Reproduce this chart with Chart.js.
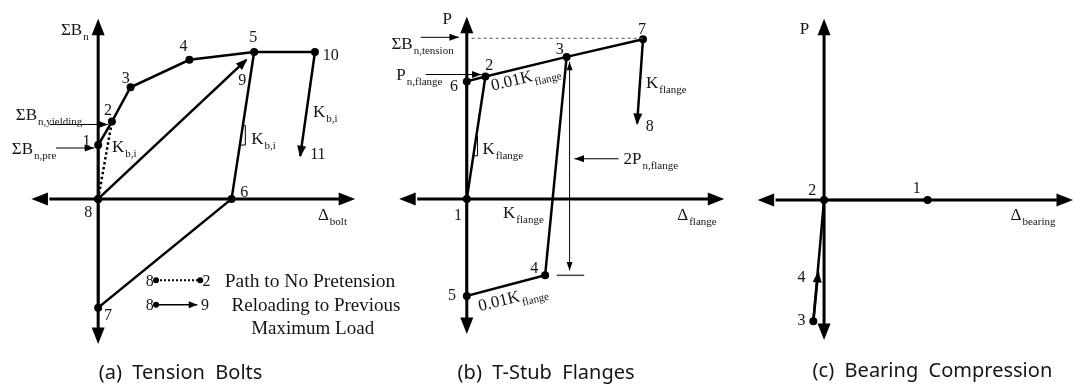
<!DOCTYPE html>
<html>
<head>
<meta charset="utf-8">
<script src="https://cdn.jsdelivr.net/npm/chart.js@4"></script>
<style>
  body { margin: 0; background: #fff; }
  #wrap { position: relative; width: 1077px; height: 391px; overflow: hidden; }
  canvas { position: absolute; top: 0; }
</style>
</head>
<body>
<div id="wrap">
  <canvas id="bolts" width="420" height="391" style="left:0"></canvas>
  <canvas id="flanges" width="380" height="391" style="left:360px"></canvas>
  <canvas id="bearing" width="337" height="391" style="left:740px"></canvas>
</div>
<script>
// (a) tension bolts, origin at point 8 (x = elongation, y = bolt force)
const boltLoading = [[0, 0], [0, 55], [14, 79], [33, 114], [93, 142], [159, 150], [221, 150]]; // 8-1-2-3-4-5-10
const boltLoadingDots = [1, 1, 1, 1, 1, 1, 1];
const boltUnload = [[221, 150], [206, 44]];                 // 10 -> 11
const boltCycle = [[159, 150], [136, 0], [0, -111], [0, 0]]; // 5-6-7-8
const boltCycleDots = [0, 1, 1, 0];
const boltReload = [[0, 0], [151, 142]];                    // 8 -> 9
const boltNoPretension = [[0, 0], [14, 79]];                // 8 ... 2
const boltAxisX = [-65, 262];
const boltAxisY = [-148, 184];

// (b) T-stub flanges, origin at point 1
const flangeLoading = [[0, 0], [19, 125], [102, 145], [180, 163]]; // 1-2-3-7
const flangeLoadingDots = [1, 1, 1, 1];
const flangeUnload = [[180, 163], [174, 77]];                      // 7 -> 8
const flangeCycle = [[102, 145], [80, -78], [0, -99], [0, 120], [19, 125]]; // 3-4-5-6-2
const flangeCycleDots = [0, 1, 1, 1, 0];
const flangeTension = 164;        // sum of bolt tension capacity
const flangeRange = [140, -73];   // 2P_n,flange span
const flangeAxisX = [-66, 263];
const flangeAxisY = [-138, 186];

// (c) bearing compression, origin at point 2
const bearingPath = [[106, 0], [0, 0], [-11, -124]]; // 1-2-3
const bearingPathDots = [1, 1, 1];
const bearingReload = [[-11, -124], [-6, -74]];      // 3 -> 4
const bearingAxisX = [-65, 255];
const bearingAxisY = [-143, 185];

const INK = '#000';
const TEXT = '#151515';
const SERIF = '"Liberation Serif", "Times New Roman", serif';
const LABEL = 17;
const NUM = 16;

function path(points, opts = {}) {
  const dots = opts.dots || points.map(() => 0);
  delete opts.dots;
  return Object.assign({
    data: points.map(([x, y]) => ({ x, y })),
    showLine: true,
    borderColor: INK,
    backgroundColor: INK,
    borderWidth: 2.5,
    pointRadius: dots.map(d => d ? 4 : 0),
    pointBorderWidth: 0,
    tension: 0
  }, opts);
}

function arrowHead(ctx, x0, y0, x1, y1, len, half) {
  const a = Math.atan2(y1 - y0, x1 - x0);
  ctx.save();
  ctx.translate(x1, y1);
  ctx.rotate(a);
  ctx.beginPath();
  ctx.moveTo(1.5, 0);
  ctx.lineTo(-len, half);
  ctx.lineTo(-len, -half);
  ctx.closePath();
  ctx.fill();
  ctx.restore();
}

// text with an optional subscript after '_'
function rich(ctx, text, x, y, size, align = 'left', rot = 0) {
  const [main, sub = ''] = text.split('_');
  const subSize = Math.round(size * 0.64);
  ctx.save();
  ctx.translate(x, y);
  ctx.rotate(rot);
  ctx.fillStyle = TEXT;
  ctx.textAlign = 'left';
  ctx.textBaseline = 'alphabetic';
  ctx.font = `${size}px ${SERIF}`;
  const wm = ctx.measureText(main).width;
  ctx.font = `${subSize}px ${SERIF}`;
  const ws = sub ? ctx.measureText(sub).width + 1 : 0;
  const x0 = align === 'center' ? -(wm + ws) / 2 : 0;
  const base = size * 0.33;
  ctx.font = `${size}px ${SERIF}`;
  ctx.fillText(main, x0, base);
  if (sub) {
    ctx.font = `${subSize}px ${SERIF}`;
    ctx.fillText(sub, x0 + wm + 1, base + size * 0.3);
  }
  ctx.restore();
}

function sketchTools(chart) {
  const ctx = chart.ctx;
  const sx = v => chart.scales.x.getPixelForValue(v);
  const sy = v => chart.scales.y.getPixelForValue(v);
  return {
    ctx, sx, sy,
    axes(xr, yr) {
      const o = { x: sx(0), y: sy(0) };
      const L = 15, H = 6.5;
      ctx.save();
      ctx.strokeStyle = INK;
      ctx.fillStyle = INK;
      ctx.lineWidth = 3;
      ctx.beginPath();
      ctx.moveTo(sx(xr[0]) + L, o.y);
      ctx.lineTo(sx(xr[1]) - L, o.y);
      ctx.moveTo(o.x, sy(yr[0]) - L);
      ctx.lineTo(o.x, sy(yr[1]) + L);
      ctx.stroke();
      arrowHead(ctx, o.x, o.y, sx(xr[0]) - 1.5, o.y, L, H);
      arrowHead(ctx, o.x, o.y, sx(xr[1]) - 1.5, o.y, L, H);
      arrowHead(ctx, o.x, o.y, o.x, sy(yr[0]) - 1.5, L, H);
      arrowHead(ctx, o.x, o.y, o.x, sy(yr[1]) + 1.5, L, H);
      ctx.restore();
    },
    pointer(a, b, width = 1, len = 8, half = 3.5) {
      ctx.save();
      ctx.strokeStyle = INK;
      ctx.fillStyle = INK;
      ctx.lineWidth = width;
      ctx.beginPath();
      ctx.moveTo(sx(a[0]), sy(a[1]));
      ctx.lineTo(sx(b[0]), sy(b[1]));
      ctx.stroke();
      arrowHead(ctx, sx(a[0]), sy(a[1]), sx(b[0]) - 1.5 * Math.sign(sx(b[0]) - sx(a[0])), sy(b[1]) - 1.5 * Math.sign(sy(b[1]) - sy(a[1])), len, half);
      ctx.restore();
    },
    poly(pts, width = 1, color = INK, dash = []) {
      ctx.save();
      ctx.strokeStyle = color;
      ctx.lineWidth = width;
      ctx.setLineDash(dash);
      ctx.beginPath();
      pts.forEach(([x, y], i) => i ? ctx.lineTo(sx(x), sy(y)) : ctx.moveTo(sx(x), sy(y)));
      ctx.stroke();
      ctx.restore();
    },
    dot(x, y, r = 3) {
      ctx.save();
      ctx.fillStyle = INK;
      ctx.beginPath();
      ctx.arc(sx(x), sy(y), r, 0, Math.PI * 2);
      ctx.fill();
      ctx.restore();
    },
    labels(list) {
      list.forEach(([t, x, y, size = LABEL, align = 'left', rot = 0]) => rich(ctx, t, sx(x), sy(y), size, align, rot));
    },
    numbers(list) {
      list.forEach(([t, x, y]) => rich(ctx, t, sx(x), sy(y), NUM, 'center'));
    },
    caption(t, x, y) {
      ctx.save();
      ctx.fillStyle = TEXT;
      ctx.font = '20px "Noto Sans", "Open Sans", sans-serif';
      ctx.textAlign = 'center';
      ctx.textBaseline = 'middle';
      ctx.fillText(t, sx(x), sy(y));
      ctx.restore();
    }
  };
}

function makePanel(id, xRange, yRange, datasets, axes, extras) {
  return new Chart(document.getElementById(id), {
    type: 'scatter',
    data: { datasets },
    options: {
      responsive: false,
      animation: false,
      events: [],
      layout: { padding: 0 },
      scales: {
        x: { type: 'linear', display: false, min: xRange[0], max: xRange[1] },
        y: { type: 'linear', display: false, min: yRange[0], max: yRange[1] }
      },
      plugins: { legend: { display: false }, tooltip: { enabled: false } }
    },
    plugins: [{
      id: 'sketch',
      beforeDatasetsDraw(chart) {
        sketchTools(chart).axes(axes[0], axes[1]);
      },
      afterDatasetsDraw(chart) {
        const ctx = chart.ctx;
        ctx.save();
        ctx.fillStyle = INK;
        chart.data.datasets.forEach((ds, i) => {
          if (!ds.arrowEnd) return;
          const pts = chart.getDatasetMeta(i).data;
          const a = pts[pts.length - 2], b = pts[pts.length - 1];
          arrowHead(ctx, a.x, a.y, b.x, b.y, 10, 4.5);
        });
        ctx.restore();
        extras(sketchTools(chart));
      }
    }]
  });
}

// (a) Tension Bolts
makePanel('bolts', [-96, 324], [-192, 199], [
  path(boltLoading, { dots: boltLoadingDots }),
  path(boltUnload, { arrowEnd: true }),
  path(boltCycle, { dots: boltCycleDots }),
  path(boltReload, { arrowEnd: true }),
  path(boltNoPretension, { borderDash: [2.5, 2.5], borderWidth: 2.5 })
], [boltAxisX, boltAxisY], t => {
  t.dot(0, 0, 4);
  t.pointer([-49, 76], [10, 76]);
  t.pointer([-43, 52], [-4, 52]);
  t.poly([[147.5, 75], [150, 75], [150, 55], [144.4, 55]], 1);
  t.labels([
    ['ΣB_n', -38, 173],
    ['Δ_bolt', 224, -16],
    ['ΣB_n,yielding', -84, 86],
    ['ΣB_n,pre', -88, 52],
    ['K_b,i', 14, 54],
    ['K_b,i', 156, 62],
    ['K_b,i', 219, 89]
  ]);
  t.numbers([
    ['1', -12, 59], ['2', 10, 91], ['3', 28, 124], ['4', 87, 156], ['5', 158, 166],
    ['10', 237, 147], ['9', 147, 122], ['11', 224, 46], ['6', 149, 7],
    ['8', -10, -13], ['7', 10, -118]
  ]);
  // legend
  t.numbers([['8', 52.5, -83], ['2', 110.5, -83], ['8', 52.5, -108], ['9', 109, -108]]);
  t.poly([[59, -83], [104, -83]], 2, INK, [2, 2]);
  t.dot(59, -83); t.dot(104, -83);
  t.dot(59, -108);
  t.pointer([59, -108], [101, -108], 1.5, 7, 3.5);
  t.labels([
    ['Path to No Pretension', 129, -83, 19.5],
    ['Reloading to Previous', 136, -108, 19],
    ['Maximum Load', 156, -131, 19]
  ]);
  t.caption('(a)  Tension  Bolts', 84, -178);
});

// (b) T-Stub Flanges
const slope = -0.24;
makePanel('flanges', [-105, 275], [-192, 199], [
  path(flangeLoading, { dots: flangeLoadingDots }),
  path(flangeUnload, { arrowEnd: true }),
  path(flangeCycle, { dots: flangeCycleDots })
], [flangeAxisX, flangeAxisY], t => {
  t.poly([[5, flangeTension], [180, flangeTension]], 1, '#555', [3, 3]);
  t.pointer([-47, 165], [-8, 165]);
  t.pointer([-42, 127], [15, 127]);
  t.pointer([155, 41], [110, 41]);
  t.pointer([105, 30], [105, flangeRange[0]], 1, 7, 3);
  t.pointer([105, 30], [105, flangeRange[1]], 1, 7, 3);
  t.poly([[92, -78], [120, -78]], 1.5, '#444');
  t.poly([[9.7, 64], [11, 64], [11, 44], [6.7, 44]], 1);
  t.labels([
    ['P', -20, 184, LABEL, 'center'],
    ['ΣB_n,tension', -77, 159],
    ['P_n,flange', -72, 127],
    ['K_flange', 183, 119],
    ['K_flange', 16, 52],
    ['2P_n,flange', 160, 41],
    ['Δ_flange', 215, -16],
    ['K_flange', 37, -14],
    ['0.01K_flange', 25, 116, LABEL, 'left', slope],
    ['0.01K_flange', 12, -109, LABEL, 'left', slope]
  ]);
  t.numbers([
    ['6', -13, 116], ['2', 23, 137], ['3', 95, 153], ['7', 179, 174], ['8', 187, 75],
    ['1', -9, -16], ['4', 69, -70], ['5', -15, -98]
  ]);
  t.caption('(b)  T-Stub  Flanges', 81, -178);
});

// (c) Bearing Compression
makePanel('bearing', [-82, 255], [-191, 200], [
  path(bearingPath, { dots: bearingPathDots }),
  path(bearingReload, { arrowEnd: true })
], [bearingAxisX, bearingAxisY], t => {
  t.labels([
    ['P', -20, 175, LABEL, 'center'],
    ['Δ_bearing', 191, -15]
  ]);
  t.numbers([['2', -12, 10], ['1', 95, 12], ['4', -23, -78], ['3', -23, -122]]);
  t.caption('(c)  Bearing  Compression', 111, -175);
});
</script>
</body>
</html>
